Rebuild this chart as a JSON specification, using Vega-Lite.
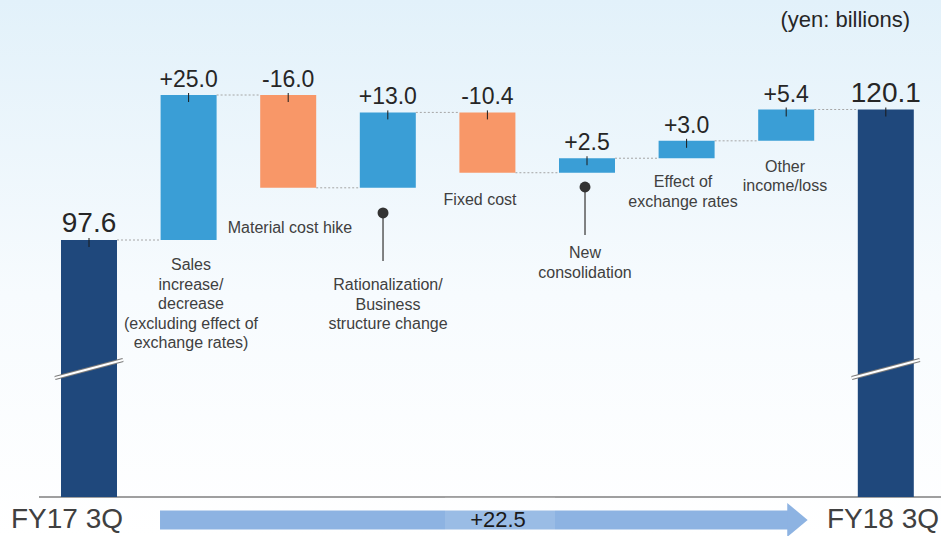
{
  "$schema": "https://vega.github.io/schema/vega-lite/v6.json",
  "width": 941,
  "height": 536,
  "autosize": {"type": "none"},
  "padding": 0,
  "background": "#ffffff",
  "view": {
    "stroke": null,
    "fill": {"gradient": "linear", "x1": 0, "y1": 0, "x2": 0, "y2": 1,
      "stops": [{"offset": 0, "color": "#e2f1fa"}, {"offset": 0.55, "color": "#f7fbfe"}, {"offset": 1, "color": "#ffffff"}]}
  },
  "config": {"font": "Liberation Sans", "text": {"font": "Liberation Sans"}},
  "datasets": {
    "bars": [
      {"name": "FY17 3Q", "x": 0, "y": 53.29, "y2": 97.6, "label": "97.6", "kind": "total"},
      {"name": "Sales increase/decrease", "x": 1, "y": 97.6, "y2": 122.6, "label": "+25.0", "kind": "increase"},
      {"name": "Material cost hike", "x": 2, "y": 106.6, "y2": 122.6, "label": "-16.0", "kind": "decrease"},
      {"name": "Rationalization/Business structure change", "x": 3, "y": 106.6, "y2": 119.6, "label": "+13.0", "kind": "increase"},
      {"name": "Fixed cost", "x": 4, "y": 109.2, "y2": 119.6, "label": "-10.4", "kind": "decrease"},
      {"name": "New consolidation", "x": 5, "y": 109.2, "y2": 111.7, "label": "+2.5", "kind": "increase"},
      {"name": "Effect of exchange rates", "x": 6, "y": 111.7, "y2": 114.7, "label": "+3.0", "kind": "increase"},
      {"name": "Other income/loss", "x": 7, "y": 114.7, "y2": 120.1, "label": "+5.4", "kind": "increase"},
      {"name": "FY18 3Q", "x": 8, "y": 53.29, "y2": 120.1, "label": "120.1", "kind": "total"}
    ],
    "connectors": [
      {"x": 0, "x2": 1, "y": 97.6},
      {"x": 1, "x2": 2, "y": 122.6},
      {"x": 2, "x2": 3, "y": 106.6},
      {"x": 3, "x2": 4, "y": 119.6},
      {"x": 4, "x2": 5, "y": 109.2},
      {"x": 5, "x2": 6, "y": 111.7},
      {"x": 6, "x2": 7, "y": 114.7},
      {"x": 7, "x2": 8, "y": 120.1}
    ],
    "baseline": [{"x": -0.502, "x2": 8.554, "y": 53.29}],
    "breaks": [{"x": 0, "y": 73.81, "y2": 76.91}, {"x": 8, "y": 73.81, "y2": 76.91}],
    "notes": [
      {"x": 1.024, "y": 93.29, "text": "Sales\nincrease/\ndecrease\n(excluding effect of\nexchange rates)"},
      {"x": 2.018, "y": 99.67, "text": "Material cost hike"},
      {"x": 3.002, "y": 89.84, "text": "Rationalization/\nBusiness\nstructure change"},
      {"x": 3.926, "y": 104.5, "text": "Fixed cost"},
      {"x": 4.98, "y": 95.36, "text": "New\nconsolidation"},
      {"x": 5.964, "y": 107.6, "text": "Effect of\nexchange rates"},
      {"x": 6.988, "y": 110.19, "text": "Other\nincome/loss"}
    ],
    "callouts": [
      {"x": 2.952, "y": 102.26, "y2": 93.98},
      {"x": 4.98, "y": 106.74, "y2": 98.46}
    ],
    "arrow": [{"x": 0.713, "x2": 7.05, "y": 49.33, "tip": 7.113, "text": "+22.5", "tx": 4.106}],
    "veil": [{"x": 3.574, "x2": 4.679, "y": 53.29, "y2": 47.26}],
    "periods": [
      {"x": -0.221, "y": 49.33, "text": "FY17 3Q"},
      {"x": 7.972, "y": 49.33, "text": "FY18 3Q"}
    ],
    "unit": [{"x": 8.243, "y": 135.53, "text": "(yen: billions)"}]
  },
  "encoding": {
    "x": {"field": "x", "type": "quantitative", "scale": {"domain": [-0.8936, 8.5542], "nice": false, "zero": false, "padding": 0}, "axis": null},
    "y": {"field": "y", "type": "quantitative", "scale": {"domain": [46.57, 138.98], "nice": false, "zero": false, "padding": 0}, "axis": null}
  },
  "layer": [
    {
      "data": {"name": "baseline"},
      "mark": {"type": "rule", "color": "#7f7f7f", "strokeWidth": 1.5},
      "encoding": {"x2": {"field": "x2"}}
    },
    {
      "data": {"name": "connectors"},
      "mark": {"type": "rule", "color": "#a6a6a6", "strokeWidth": 1, "strokeDash": [2, 2], "xOffset": 28, "x2Offset": -28},
      "encoding": {"x2": {"field": "x2"}}
    },
    {
      "data": {"name": "bars"},
      "mark": {"type": "bar", "width": 56},
      "encoding": {
        "y2": {"field": "y2"},
        "color": {"field": "kind", "type": "nominal", "legend": null,
          "scale": {"domain": ["total", "increase", "decrease"], "range": ["#1f487c", "#3a9ed6", "#f89768"]}}
      }
    },
    {
      "data": {"name": "breaks"},
      "mark": {"type": "rule", "color": "#7a7a7a", "strokeWidth": 4, "xOffset": -34, "x2Offset": 34},
      "encoding": {"x2": {"field": "x"}, "y2": {"field": "y2"}}
    },
    {
      "data": {"name": "breaks"},
      "mark": {"type": "rule", "color": "#ffffff", "strokeWidth": 2, "xOffset": -34, "x2Offset": 34},
      "encoding": {"x2": {"field": "x"}, "y2": {"field": "y2"}}
    },
    {
      "data": {"name": "bars"},
      "mark": {"type": "rule", "color": "#1a1a1a", "strokeWidth": 1, "yOffset": -2, "y2Offset": 7},
      "encoding": {"y": {"field": "y2", "type": "quantitative"}, "y2": {"field": "y2"}}
    },
    {
      "data": {"name": "bars"},
      "transform": [{"filter": "datum.kind === 'total'"}],
      "mark": {"type": "text", "fontSize": 28, "color": "#262626", "dy": -8, "baseline": "alphabetic", "align": "center"},
      "encoding": {"y": {"field": "y2", "type": "quantitative"}, "text": {"field": "label"}}
    },
    {
      "data": {"name": "bars"},
      "transform": [{"filter": "datum.kind !== 'total'"}],
      "mark": {"type": "text", "fontSize": 23, "color": "#262626", "dy": -8, "baseline": "alphabetic", "align": "center"},
      "encoding": {"y": {"field": "y2", "type": "quantitative"}, "text": {"field": "label"}}
    },
    {
      "data": {"name": "notes"},
      "mark": {"type": "text", "fontSize": 16, "color": "#404040", "lineBreak": "\n", "lineHeight": 19.5, "baseline": "middle", "align": "center"},
      "encoding": {"text": {"field": "text"}}
    },
    {
      "data": {"name": "callouts"},
      "mark": {"type": "rule", "color": "#595959", "strokeWidth": 1.5},
      "encoding": {"y2": {"field": "y2"}}
    },
    {
      "data": {"name": "callouts"},
      "mark": {"type": "point", "filled": true, "size": 120, "color": "#333333", "opacity": 1},
      "encoding": {}
    },
    {
      "data": {"name": "arrow"},
      "mark": {"type": "rule", "color": "#8db3e2", "strokeWidth": 19},
      "encoding": {"x2": {"field": "x2"}}
    },
    {
      "data": {"name": "arrow"},
      "mark": {"type": "point", "filled": true, "size": 1156, "color": "#8db3e2", "opacity": 1, "shape": "M-0.6,-1L0.6,0L-0.6,1Z"},
      "encoding": {"x": {"field": "tip", "type": "quantitative"}}
    },
    {
      "data": {"name": "veil"},
      "mark": {"type": "rect", "color": "#ffffff", "opacity": 0.12},
      "encoding": {"x2": {"field": "x2"}, "y2": {"field": "y2"}}
    },
    {
      "data": {"name": "arrow"},
      "mark": {"type": "text", "fontSize": 22, "color": "#1a1a1a", "baseline": "middle", "align": "center"},
      "encoding": {"x": {"field": "tx", "type": "quantitative"}, "text": {"field": "text"}}
    },
    {
      "data": {"name": "periods"},
      "mark": {"type": "text", "fontSize": 28, "color": "#404040", "baseline": "middle", "align": "center"},
      "encoding": {"text": {"field": "text"}}
    },
    {
      "data": {"name": "unit"},
      "mark": {"type": "text", "fontSize": 22, "color": "#262626", "baseline": "middle", "align": "right"},
      "encoding": {"text": {"field": "text"}}
    }
  ]
}
